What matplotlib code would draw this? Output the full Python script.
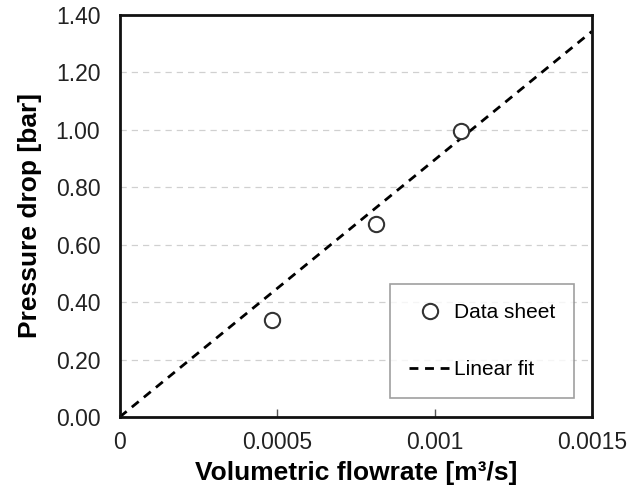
import numpy as np
import matplotlib.pyplot as plt

plt.rcParams['font.family'] = ['Liberation Sans', 'DejaVu Sans']

# data
flow = [0.000484, 0.000814, 0.001083]   # m3/s
dp = [0.338, 0.672, 0.996]              # bar
fit_x = [0.0, 0.0015]
fit_slope = 895.0                       # bar per m3/s

xticks = [0, 0.0005, 0.001, 0.0015]
xticklabels = ['0', '0.0005', '0.001', '0.0015']
yticks = [0.0, 0.2, 0.4, 0.6, 0.8, 1.0, 1.2, 1.4]

fig = plt.figure(figsize=(6.27, 4.97), dpi=100)
ax = fig.add_axes([0.191, 0.161, 0.753, 0.809])

ax.plot(fit_x, [fit_slope * v for v in fit_x], color='black', ls=(0, (3.2, 2.4)),
        lw=2.0, label='Linear fit', zorder=2, clip_on=False)
ax.plot(flow, dp, ls='none', marker='o', ms=11, mfc='white', mec='#333333',
        mew=1.5, label='Data sheet', zorder=3)

ax.set_xlim(0, 0.0015)
ax.set_ylim(0, 1.4)
ax.set_xticks(xticks)
ax.set_xticklabels(xticklabels)
ax.set_yticks(yticks)
ax.set_yticklabels(['%.2f' % v for v in yticks])

ax.grid(axis='y', color='#d0d0d0', ls=(0, (5, 4)), lw=0.9)
ax.set_axisbelow(True)
for s in ax.spines.values():
    s.set_linewidth(2.0)
    s.set_color('#111111')

ax.tick_params(axis='y', length=0, labelsize=16.5, pad=14, labelcolor='#222222')
ax.tick_params(axis='x', direction='in', length=6, width=1, color='#555555',
               labelsize=16.5, pad=10, labelcolor='#222222')

ax.set_xlabel('Volumetric flowrate [m\u00b3/s]', fontsize=19, fontweight='bold', labelpad=5)
ax.set_ylabel('Pressure drop [bar]', fontsize=19, fontweight='bold', labelpad=10)

handles, labels = ax.get_legend_handles_labels()
leg = ax.legend(handles[::-1], labels[::-1], loc='lower right',
                bbox_to_anchor=(0.962, 0.047), fontsize=15, frameon=True,
                fancybox=False, edgecolor='#888888', borderpad=0.9,
                labelspacing=1.85, handlelength=2.0, handletextpad=0.15,
                borderaxespad=0)
leg.get_frame().set_linewidth(1.2)

fig.savefig('out.png', dpi=100)
